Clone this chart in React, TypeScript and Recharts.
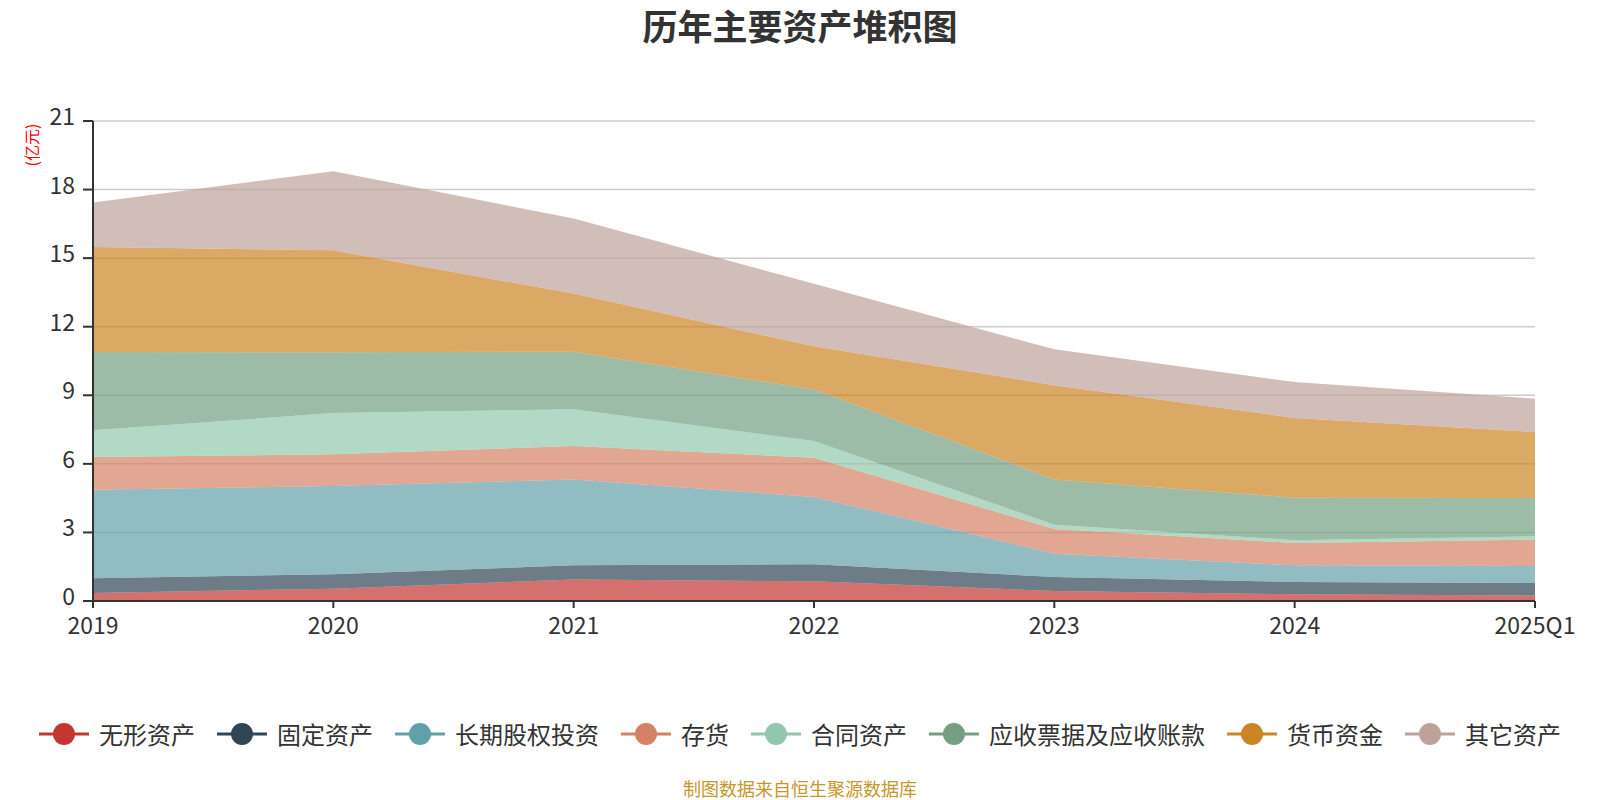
import { AreaChart, Area, XAxis, YAxis, CartesianGrid } from 'recharts';

// 单位：亿元
const years = ['2019', '2020', '2021', '2022', '2023', '2024', '2025Q1'];

const intangible = [0.35, 0.54, 0.94, 0.86, 0.44, 0.29, 0.24];
const fixedAssets = [0.65, 0.63, 0.62, 0.75, 0.61, 0.54, 0.55];
const equityInvest = [3.87, 3.86, 3.76, 2.94, 1.02, 0.73, 0.74];
const inventory = [1.43, 1.39, 1.46, 1.72, 1.08, 0.98, 1.16];
const contractAssets = [1.17, 1.8, 1.61, 0.73, 0.19, 0.12, 0.14];
const receivables = [3.42, 2.66, 2.52, 2.25, 1.98, 1.86, 1.68];
const cash = [4.6, 4.46, 2.54, 1.89, 4.12, 3.49, 2.88];
const others = [1.94, 3.46, 3.28, 2.74, 1.57, 1.57, 1.46];

const yTicks = [0, 3, 6, 9, 12, 15, 18, 21];

const SERIES = [
  { key: 'intangible', name: '无形资产', color: '#c23531', values: intangible },
  { key: 'fixedAssets', name: '固定资产', color: '#2f4554', values: fixedAssets },
  { key: 'equityInvest', name: '长期股权投资', color: '#61a0a8', values: equityInvest },
  { key: 'inventory', name: '存货', color: '#d48265', values: inventory },
  { key: 'contractAssets', name: '合同资产', color: '#91c7ae', values: contractAssets },
  { key: 'receivables', name: '应收票据及应收账款', color: '#749f83', values: receivables },
  { key: 'cash', name: '货币资金', color: '#ca8622', values: cash },
  { key: 'others', name: '其它资产', color: '#bda29a', values: others },
];

const data = years.map((year, i) => {
  const row: { [key: string]: string | number } = { year };
  SERIES.forEach((s) => {
    row[s.key] = s.values[i];
  });
  return row;
});

const FONT = '"Noto Sans CJK SC", "Noto Sans", sans-serif';

// y轴刻度文字略高于刻度线
const YTick = (props: any) => {
  const { x, y, payload } = props;
  return (
    <text x={x} y={y - 4} dy="0.35em" textAnchor="end" fill="#333" fontSize={23} fontFamily={FONT}>
      {payload.value}
    </text>
  );
};

const LegendIcon = ({ color }: { color: string }) => (
  <svg width={50} height={24} style={{ display: 'block' }}>
    <line x1={0} y1={12} x2={50} y2={12} stroke={color} strokeWidth={3} />
    <circle cx={25} cy={12} r={11} fill={color} />
  </svg>
);

export default function App() {
  return (
    <div
      style={{
        position: 'absolute',
        left: 0,
        top: 0,
        width: 1600,
        height: 800,
        background: '#fff',
        fontFamily: FONT,
        overflow: 'hidden',
      }}
    >
      <div
        style={{
          position: 'absolute',
          top: 4,
          left: 0,
          width: 1600,
          textAlign: 'center',
          fontSize: 35,
          fontWeight: 'bold',
          color: '#333',
          lineHeight: '42px',
        }}
      >
        历年主要资产堆积图
      </div>

      <div
        style={{
          position: 'absolute',
          left: 31,
          top: 145,
          transform: 'translate(-50%, -50%) rotate(-90deg)',
          color: '#ff0000',
          fontSize: 16,
          whiteSpace: 'nowrap',
          lineHeight: '18px',
        }}
      >
        (亿元)
      </div>

      <div style={{ position: 'absolute', left: 0, top: 0 }}>
        <AreaChart
          width={1600}
          height={660}
          data={data}
          margin={{ top: 121, right: 65, left: 33, bottom: 29 }}
        >
          <CartesianGrid vertical={false} stroke="#cccccc" strokeWidth={1.5} />
          <XAxis
            dataKey="year"
            interval={0}
            height={30}
            axisLine={{ stroke: '#333', strokeWidth: 2 }}
            tickLine={{ stroke: '#333', strokeWidth: 2 }}
            tickSize={7}
            tickMargin={10}
            tick={{ fill: '#333', fontSize: 23, fontFamily: FONT }}
          />
          <YAxis
            width={60}
            domain={[0, 21]}
            ticks={yTicks}
            interval={0}
            axisLine={{ stroke: '#333', strokeWidth: 2 }}
            tickLine={{ stroke: '#333', strokeWidth: 2 }}
            tickSize={10}
            tickMargin={8}
            tick={<YTick />}
          />
          {SERIES.map((s) => (
            <Area
              key={s.key}
              type="linear"
              dataKey={s.key}
              name={s.name}
              stackId="assets"
              stroke="none"
              fill={s.color}
              fillOpacity={0.7}
              dot={false}
              activeDot={false}
              isAnimationActive={false}
            />
          ))}
        </AreaChart>
      </div>

      <div
        style={{
          position: 'absolute',
          left: 0,
          top: 734 - 16,
          width: 1600,
          height: 32,
          display: 'flex',
          justifyContent: 'center',
          alignItems: 'center',
          gap: 22,
        }}
      >
        {SERIES.map((s) => (
          <div key={s.key} style={{ display: 'flex', alignItems: 'center', gap: 10 }}>
            <LegendIcon color={s.color} />
            <span style={{ fontSize: 24, color: '#333', lineHeight: '32px', whiteSpace: 'nowrap' }}>
              {s.name}
            </span>
          </div>
        ))}
      </div>

      <div
        style={{
          position: 'absolute',
          left: 0,
          top: 778,
          width: 1600,
          textAlign: 'center',
          fontSize: 18,
          color: '#c8962c',
          lineHeight: '20px',
        }}
      >
        制图数据来自恒生聚源数据库
      </div>
    </div>
  );
}
